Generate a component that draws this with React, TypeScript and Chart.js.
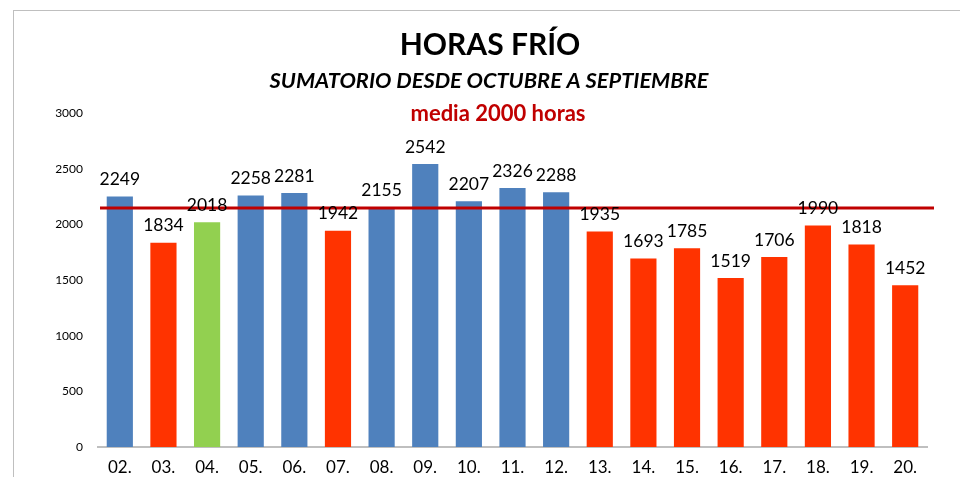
import { useEffect, useRef } from 'react';
import { Chart, registerables } from 'chart.js';

Chart.register(...registerables);

// ---- data ----
const categories = ['02.', '03.', '04.', '05.', '06.', '07.', '08.', '09.', '10.', '11.', '12.', '13.', '14.', '15.', '16.', '17.', '18.', '19.', '20.'];
const hours = [2249, 1834, 2018, 2258, 2281, 1942, 2155, 2542, 2207, 2326, 2288, 1935, 1693, 1785, 1519, 1706, 1990, 1818, 1452];
const groups = ['alto', 'bajo', 'medio', 'alto', 'alto', 'bajo', 'alto', 'alto', 'alto', 'alto', 'alto', 'bajo', 'bajo', 'bajo', 'bajo', 'bajo', 'bajo', 'bajo', 'bajo'];
const meanLineValue = 2147;
const yMin = 0;
const yMax = 3000;
const yStep = 500;

const titleText = 'HORAS FRÍO';
const subtitleText = 'SUMATORIO DESDE OCTUBRE A SEPTIEMBRE';
const meanText = 'media 2000 horas';

// ---- styles ----
const groupColors: Record<string, string> = { alto: '#4F81BD', bajo: '#FF3300', medio: '#92D050' };
const FONT = 'Lato, "Open Sans", sans-serif';

const textPlugin = {
  id: 'texts',
  afterDraw(chart: any) {
    const ctx = chart.ctx;
    ctx.save();
    ctx.textAlign = 'center';
    ctx.textBaseline = 'alphabetic';
    ctx.fillStyle = '#000';
    ctx.font = `bold 30px ${FONT}`;
    ctx.fillText(titleText, 490, 55);
    ctx.font = `italic bold 21.8px ${FONT}`;
    ctx.fillText(subtitleText, 489, 88);
    ctx.fillStyle = '#C00000';
    ctx.font = `bold 22px ${FONT}`;
    ctx.fillText(meanText, 498, 121);
    ctx.restore();
  },
};

const meanLinePlugin = {
  id: 'meanLine',
  afterDatasetsDraw(chart: any) {
    const { ctx, chartArea, scales } = chart;
    const y = scales.y.getPixelForValue(meanLineValue);
    ctx.save();
    ctx.strokeStyle = '#C00000';
    ctx.lineWidth = 3;
    ctx.beginPath();
    ctx.moveTo(chartArea.left + 2, y);
    ctx.lineTo(chartArea.right + 7, y);
    ctx.stroke();
    ctx.restore();
  },
};

const dataLabelPlugin = {
  id: 'dataLabels',
  afterDatasetsDraw(chart: any) {
    const ctx = chart.ctx;
    const meta = chart.getDatasetMeta(0);
    ctx.save();
    ctx.font = `17.5px ${FONT}`;
    ctx.fillStyle = '#000';
    ctx.textAlign = 'center';
    ctx.textBaseline = 'middle';
    meta.data.forEach((bar: any, i: number) => {
      ctx.fillText(String(hours[i]), bar.x, bar.y - 17);
    });
    ctx.restore();
  },
};

export default function App() {
  const canvasRef = useRef<HTMLCanvasElement | null>(null);

  useEffect(() => {
    document.body.style.margin = '0';
    const canvas = canvasRef.current;
    if (!canvas) return;
    const chart = new Chart(canvas, {
      type: 'bar',
      data: {
        labels: categories,
        datasets: [
          {
            data: hours,
            backgroundColor: groups.map((g) => groupColors[g]),
            barPercentage: 0.6,
            categoryPercentage: 1,
          },
        ],
      },
      options: {
        animation: false,
        responsive: false,
        maintainAspectRatio: false,
        layout: { padding: { top: 113, right: 33, bottom: 0, left: 0 } },
        plugins: {
          legend: { display: false },
          title: { display: false },
          tooltip: { enabled: false },
        },
        scales: {
          x: {
            grid: { display: false, drawTicks: false },
            border: { display: true, color: '#BFBFBF', width: 2 },
            ticks: { color: '#000', font: { family: FONT, size: 17 }, padding: 10, maxRotation: 0 },
            afterFit(scale: any) {
              scale.height = 30;
            },
          },
          y: {
            min: yMin,
            max: yMax,
            grid: { display: false, drawTicks: false },
            border: { display: false },
            ticks: {
              stepSize: yStep,
              color: '#000',
              font: { family: FONT, size: 12 },
              padding: 15,
              callback: (v: any) => String(v),
            },
            afterFit(scale: any) {
              scale.width = 98;
            },
          },
        },
      },
      plugins: [meanLinePlugin, dataLabelPlugin, textPlugin],
    } as any);
    return () => chart.destroy();
  }, []);

  return (
    <div style={{ position: 'relative', width: 960, height: 477, overflow: 'hidden', background: '#fff' }}>
      <div
        style={{
          position: 'absolute',
          left: 13,
          top: 10,
          width: 2000,
          height: 2000,
          borderLeft: '1.5px solid #BFBFBF',
          borderTop: '1.5px solid #BFBFBF',
        }}
      />
      <canvas ref={canvasRef} width={960} height={477} style={{ position: 'absolute', left: 0, top: 0 }} />
    </div>
  );
}
